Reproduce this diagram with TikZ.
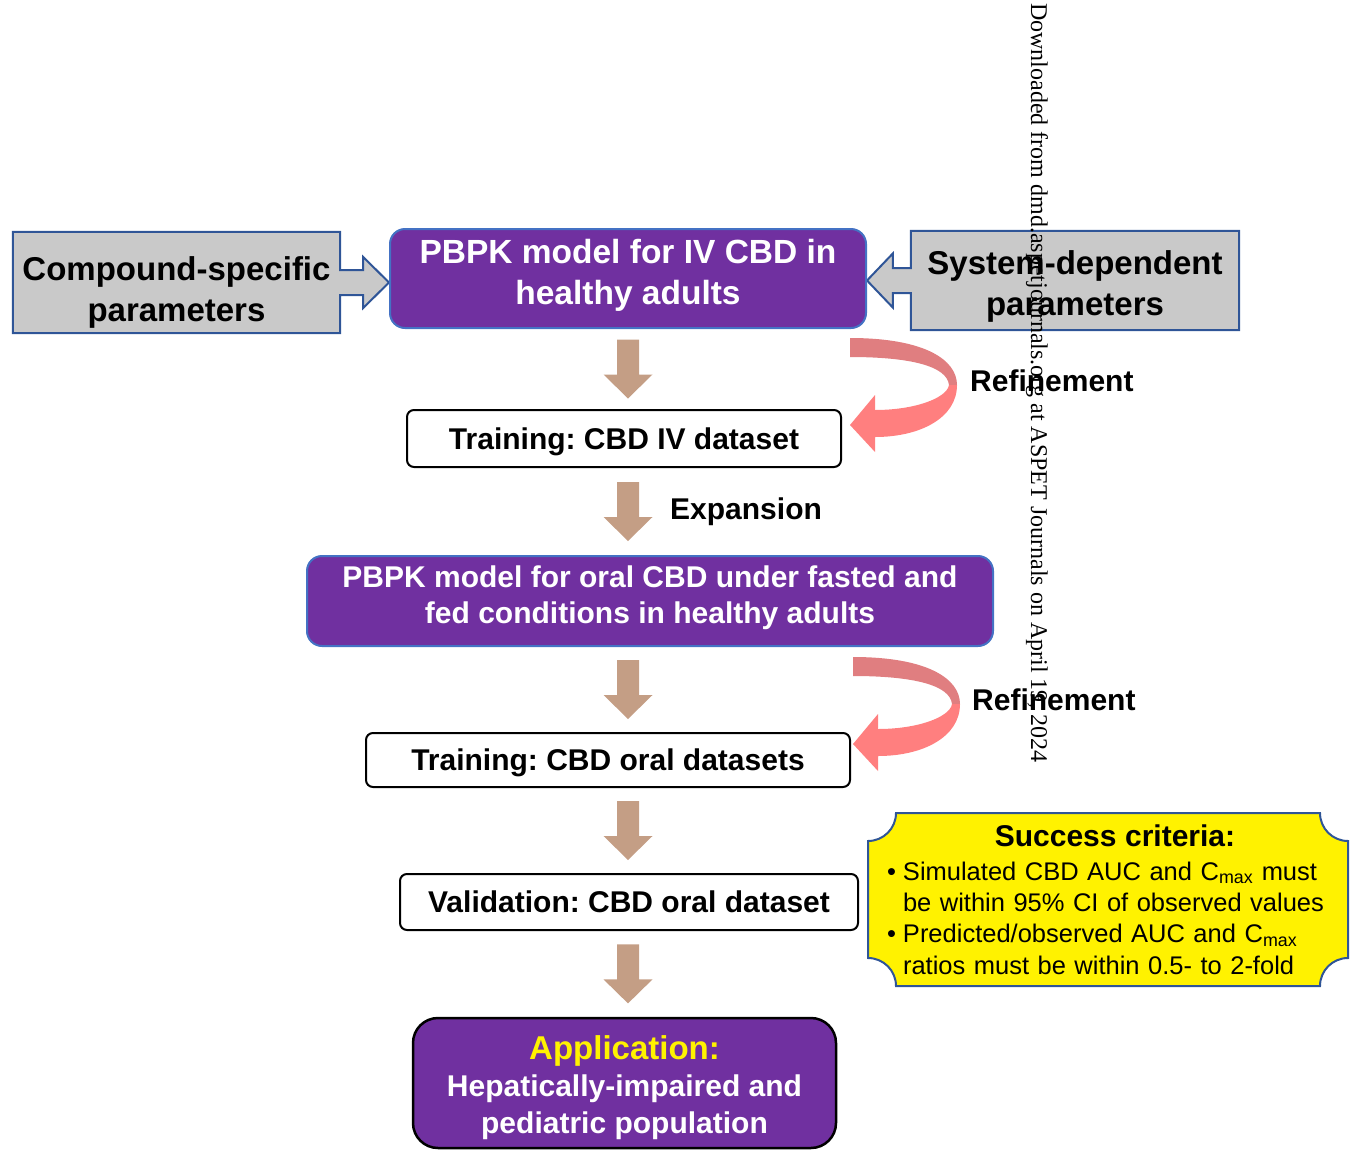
\documentclass[tikz,border=0pt]{standalone}
\usepackage{fontspec}
\setmainfont{Liberation Sans}
\newfontfamily\wmfont{Liberation Serif}
\usepackage{xcolor}
\usetikzlibrary{calc,backgrounds}
\frenchspacing

\definecolor{modelpurple}{RGB}{112,48,160}
\definecolor{edgeblue}{RGB}{68,114,196}
\definecolor{darkblue}{RGB}{47,85,151}
\definecolor{paramgray}{RGB}{201,201,201}
\definecolor{arrowtan}{RGB}{196,158,133}
\definecolor{refinedark}{RGB}{224,126,128}
\definecolor{refinelight}{RGB}{255,127,127}

\begin{document}
\begin{tikzpicture}[x=1pt, y=-1pt,
    model/.style={rectangle, draw=edgeblue, line width=2pt, rounded corners=15pt, fill=modelpurple, text=white, align=center, inner sep=0pt, font=\fontsize{33.5}{41}\selectfont\bfseries},
    dataset/.style={rectangle, draw=black, line width=2pt, rounded corners=7pt, fill=white, inner sep=0pt, text height=21.5pt, text depth=0pt, font=\fontsize{30}{36}\selectfont\bfseries},
    param/.style={rectangle, inner sep=0pt, align=center, font=\fontsize{33}{41}\selectfont\bfseries},
    callout/.style={draw=darkblue, line width=2pt, fill=paramgray},
    sidetext/.style={anchor=west, inner sep=0pt, text height=21.5pt, text depth=0pt, font=\fontsize{30}{36}\selectfont\bfseries},
    down/.pic={\fill[arrowtan] (-11,-29.5) -- (11,-29.5) -- (11,5.5) -- (24.5,5.5) -- (0,29.5) -- (-24.5,5.5) -- (-11,5.5) -- cycle;},
    refine/.pic={
      \fill[refinedark] (0,0) .. controls (75,0) and (107,22) .. (107,47) -- (99,47) .. controls (97,28) and (60,19) .. (0,19) -- cycle;
      \fill[refinelight] (107,47) .. controls (107,80) and (70,99) .. (25,99) -- (25,114) -- (0,87) -- (25,57) -- (25,72) .. controls (65,72) and (97,60) .. (99,47) -- cycle;
    }
  ]
  \useasboundingbox (0,0) rectangle (1350,1152);

  % main column
  \node[model, minimum width=476pt, minimum height=99pt] (ivmodel) at (628,278.5) {PBPK model for IV CBD in\\healthy adults\rule[-13pt]{0pt}{0pt}};
  \node[dataset, minimum width=434pt, minimum height=57pt] (ivtrain) at (624,438.5) {Training: CBD IV dataset};
  \node[model, font=\fontsize{30}{36}\selectfont\bfseries, minimum width=686pt, minimum height=90pt] (oralmodel) at (650,601) {PBPK model for oral CBD under fasted and\\fed conditions in healthy adults\rule[-12.5pt]{0pt}{0pt}};
  \node[dataset, minimum width=484pt, minimum height=54pt] (oraltrain) at (608,760) {Training: CBD oral datasets};
  \node[dataset, minimum width=458pt, minimum height=56pt] (validation) at (629,902) {Validation: CBD oral dataset};
  \node[model, draw=black, line width=2.5pt, rounded corners=25pt, font=\fontsize{30}{37}\selectfont\bfseries, minimum width=423pt, minimum height=130pt] (application) at (624.5,1083) {\rule{0pt}{34pt}{\color{yellow}\fontsize{33}{37}\selectfont Application:}\\Hepatically-impaired and\\pediatric population};

  % input parameters
  \node[param, minimum width=327pt, minimum height=101pt] (compound) at (176.5,282.5) {\rule{0pt}{44pt}Compound-specific\\parameters};
  \node[param, minimum width=328pt, minimum height=99pt] (system) at (1075,280.5) {\rule{0pt}{36pt}System-dependent\\parameters};
  \begin{pgfonlayer}{background}
    \draw[callout] (compound.north west) -- (compound.north east) -- ($(compound.east)+(0,-12.5)$) -- ++(23,0) -- ++(0,-13)
      -- (ivmodel.west |- compound.east) -- ($(compound.east)+(23,25.5)$) -- ++(0,-13) -- ($(compound.east)+(0,12.5)$)
      -- (compound.south east) -- (compound.south west) -- cycle;
    \draw[callout] (system.north east) -- (system.north west) -- ($(system.west)+(0,-12.5)$) -- ++(-18,0) -- ++(0,-14.5)
      -- (ivmodel.east |- system.west) -- ($(system.west)+(-18,27)$) -- ++(0,-14.5) -- ($(system.west)+(0,12.5)$)
      -- (system.south west) -- (system.south east) -- cycle;
  \end{pgfonlayer}

  % block arrows between the steps
  \foreach \a/\b in {ivmodel/ivtrain, ivtrain/oralmodel, oralmodel/oraltrain, oraltrain/validation, validation/application} {
    \coordinate (mid) at ($(\a.south)!0.5!(\b.north)$);
    \pic at (ivmodel |- mid) {down};
  }
  \node[sidetext] (expansion) at (670,509) {Expansion};

  % refinement loops
  \pic at (850,338) {refine};
  \pic at (853,657) {refine};
  \node[sidetext] (refine1) at (970,381) {Refinement};
  \node[sidetext] (refine2) at (972,700) {Refinement};

  % success criteria
  \draw[draw=darkblue, line width=2pt, fill=yellow] (896,813) -- (1320,813) arc[start angle=180, end angle=90, radius=28]
    -- (1348,958) arc[start angle=270, end angle=180, radius=28] -- (896,986) arc[start angle=0, end angle=-90, radius=28]
    -- (868,841) arc[start angle=90, end angle=0, radius=28] -- cycle;
  \node[anchor=north, text width=456pt, align=left, inner sep=0pt, font=\fontsize{25.5}{31.3}\selectfont] (criteria) at (1115,825) {%
    \hyphenpenalty=10000\exhyphenpenalty=10000
    {\centering\fontsize{30}{35}\selectfont\bfseries Success criteria:\par}\vspace{2pt}
    \hangindent=16pt\hangafter=1\makebox[16pt][l]{\textbullet}Simulated CBD AUC and C\textsubscript{max} must\newline be within 95\% CI of observed values\par
    \hangindent=16pt\hangafter=1\makebox[16pt][l]{\textbullet}Predicted/observed AUC and C\textsubscript{max}\newline ratios must be within 0.5- to 2-fold\par};

  \node[rotate=-90, anchor=west, inner sep=0pt, font=\wmfont\fontsize{24}{24}\selectfont] (watermark) at (1037,3) {Downloaded from dmd.aspetjournals.org at ASPET Journals on April 19, 2024};
\end{tikzpicture}
\end{document}
